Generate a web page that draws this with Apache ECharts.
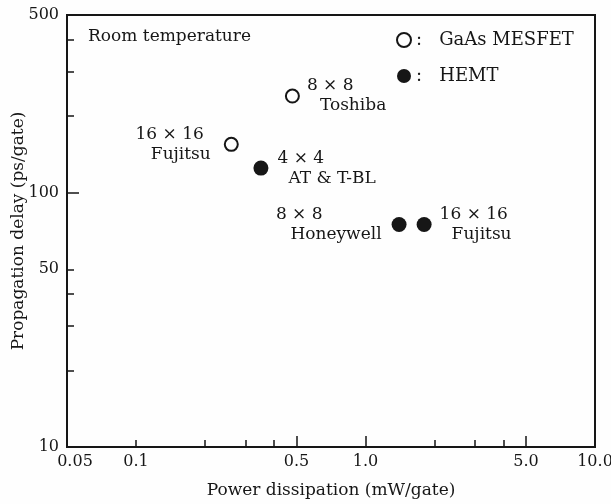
<!DOCTYPE html>
<html>
<head>
<meta charset="utf-8">
<script src="https://cdn.jsdelivr.net/npm/echarts@6/dist/echarts.min.js"></script>
<style>
  html, body { margin: 0; padding: 0; background: #fefefe; }
  #chart { width: 611px; height: 504px; }
</style>
</head>
<body>
<div id="chart"></div>
<script>
// GaAs MESFET circuits (open circles)
const mesfetPower = [0.48, 0.26];          // mW/gate
const mesfetDelay = [240, 155];            // ps/gate
const mesfetTags = [['8 × 8', 'Toshiba'], ['16 × 16', 'Fujitsu']];

// HEMT circuits (filled circles)
const hemtPower = [0.35, 1.4, 1.8];
const hemtDelay = [125, 75, 75];
const hemtTags = [['4 × 4', 'AT & T-BL'], ['8 × 8', 'Honeywell'], ['16 × 16', 'Fujitsu']];

// Axis ticks and labels
const xLabelValues = [0.05, 0.1, 0.5, 1, 5, 10];
const xLabelTexts = ['0.05', '0.1', '0.5', '1.0', '5.0', '10.0'];
const xLongTicks = [0.5, 1, 5];
const xShortTicks = [0.1, 0.2, 0.3, 0.4, 2, 3, 4];
const yLabelValues = [10, 50, 100, 500];
const yLabelTexts = ['10', '50', '100', '500'];
const yLongTicks = [100];
const yShortTicks = [20, 30, 40, 50, 200, 300, 400];

// Where each two-line tag sits around its marker
const mesfetTagPlacement = [
  { position: 'right', distance: 7, indent: [0, 13] },
  { position: 'left', distance: 13, indent: [7, 0] }
];
const hemtTagPlacement = [
  { position: 'right', distance: 9, indent: [0, 11] },
  { position: 'left', distance: 10, indent: [59, 0] },
  { position: 'right', distance: 8, indent: [0, 12] }
];

const INK = '#161616';
const FONT = '"DejaVu Serif", "Liberation Serif", serif';

function pickText(values, texts) {
  return function (v) {
    const i = values.findIndex(t => Math.abs(t - v) / t < 1e-6);
    return i < 0 ? '' : texts[i];
  };
}

// the leftmost x label is nudged right so it clears the "10" of the y axis
function xLabelFormatter(v) {
  const text = pickText(xLabelValues, xLabelTexts)(v);
  return v === xLabelValues[0] ? '{first|' + text + '}' : text;
}

function buildPoints(xs, ys, tags, placement) {
  return xs.map((x, i) => {
    const p = placement[i];
    const pad = (n) => p.position === 'right' ? [0, 0, 0, n] : [0, n, 0, 0];
    return {
      value: [x, ys[i]],
      label: {
        show: true,
        position: p.position,
        distance: p.distance,
        formatter: '{a|' + tags[i][0] + '}\n{b|' + tags[i][1] + '}',
        rich: {
          a: { padding: pad(p.indent[0]), fontSize: 17, lineHeight: 20, fontFamily: FONT, color: INK },
          b: { padding: pad(p.indent[1]), fontSize: 17, lineHeight: 20, fontFamily: FONT, color: INK }
        }
      }
    };
  });
}

const chart = echarts.init(document.getElementById('chart'));

const baseX = {
  type: 'log', logBase: 10, min: 0.05, max: 10, gridIndex: 0, position: 'bottom',
  splitLine: { show: false }, minorTick: { show: false }, minorSplitLine: { show: false }
};
const baseY = {
  type: 'log', logBase: 10, min: 10, max: 500, gridIndex: 0, position: 'left',
  splitLine: { show: false }, minorTick: { show: false }, minorSplitLine: { show: false }
};

chart.setOption({
  backgroundColor: '#fefefe',
  animation: false,
  title: {
    text: 'Room temperature', left: 88, top: 28, padding: 0,
    textStyle: { fontFamily: FONT, fontSize: 17, fontWeight: 'normal', color: INK }
  },
  legend: {
    orient: 'vertical', left: 396, top: 31, padding: 0,
    itemWidth: 14, itemHeight: 14, itemGap: 18,
    data: ['GaAs MESFET', 'HEMT'],
    formatter: name => ':   ' + name,
    textStyle: { fontFamily: FONT, fontSize: 18, color: INK }
  },
  grid: {
    left: 67, right: 16, top: 15, bottom: 57,
    outerBoundsMode: 'none', containLabel: false,
    show: true, borderColor: INK, borderWidth: 2, backgroundColor: 'transparent'
  },
  xAxis: [
    Object.assign({}, baseX, {
      name: 'Power dissipation (mW/gate)', nameLocation: 'middle', nameGap: 35,
      nameMoveOverlap: false,
      nameTextStyle: { fontFamily: FONT, fontSize: 17, color: INK },
      axisLine: { show: true, lineStyle: { color: INK, width: 2 } },
      axisTick: { show: true, inside: true, length: 11, customValues: xLongTicks, lineStyle: { color: INK, width: 1.5 } },
      axisLabel: {
        show: true, margin: 7, customValues: xLabelValues,
        formatter: xLabelFormatter,
        fontFamily: FONT, fontSize: 16, color: INK,
        rich: { first: { padding: [0, 0, 0, 16], fontFamily: FONT, fontSize: 16, color: INK } }
      }
    }),
    Object.assign({}, baseX, {
      axisLine: { show: false },
      axisTick: { show: true, inside: true, length: 7, customValues: xShortTicks, lineStyle: { color: INK, width: 1.5 } },
      axisLabel: { show: false }
    })
  ],
  yAxis: [
    Object.assign({}, baseY, {
      name: 'Propagation delay (ps/gate)', nameLocation: 'middle', nameGap: 40,
      nameMoveOverlap: false,
      nameTextStyle: { fontFamily: FONT, fontSize: 17, color: INK },
      axisLine: { show: true, lineStyle: { color: INK, width: 2 } },
      axisTick: { show: true, inside: true, length: 12, customValues: yLongTicks, lineStyle: { color: INK, width: 1.5 } },
      axisLabel: {
        show: true, margin: 8, customValues: yLabelValues,
        formatter: pickText(yLabelValues, yLabelTexts),
        fontFamily: FONT, fontSize: 16, color: INK
      }
    }),
    Object.assign({}, baseY, {
      axisLine: { show: false },
      axisTick: { show: true, inside: true, length: 7, customValues: yShortTicks, lineStyle: { color: INK, width: 1.5 } },
      axisLabel: { show: false }
    })
  ],
  series: [
    {
      name: 'GaAs MESFET', type: 'scatter', xAxisIndex: 0, yAxisIndex: 0,
      symbol: 'circle', symbolSize: 13,
      itemStyle: { color: '#fefefe', borderColor: INK, borderWidth: 2, opacity: 1 },
      data: buildPoints(mesfetPower, mesfetDelay, mesfetTags, mesfetTagPlacement)
    },
    {
      name: 'HEMT', type: 'scatter', xAxisIndex: 0, yAxisIndex: 0,
      symbol: 'circle', symbolSize: 15,
      itemStyle: { color: INK, opacity: 1 },
      data: buildPoints(hemtPower, hemtDelay, hemtTags, hemtTagPlacement)
    }
  ]
});
</script>
</body>
</html>
